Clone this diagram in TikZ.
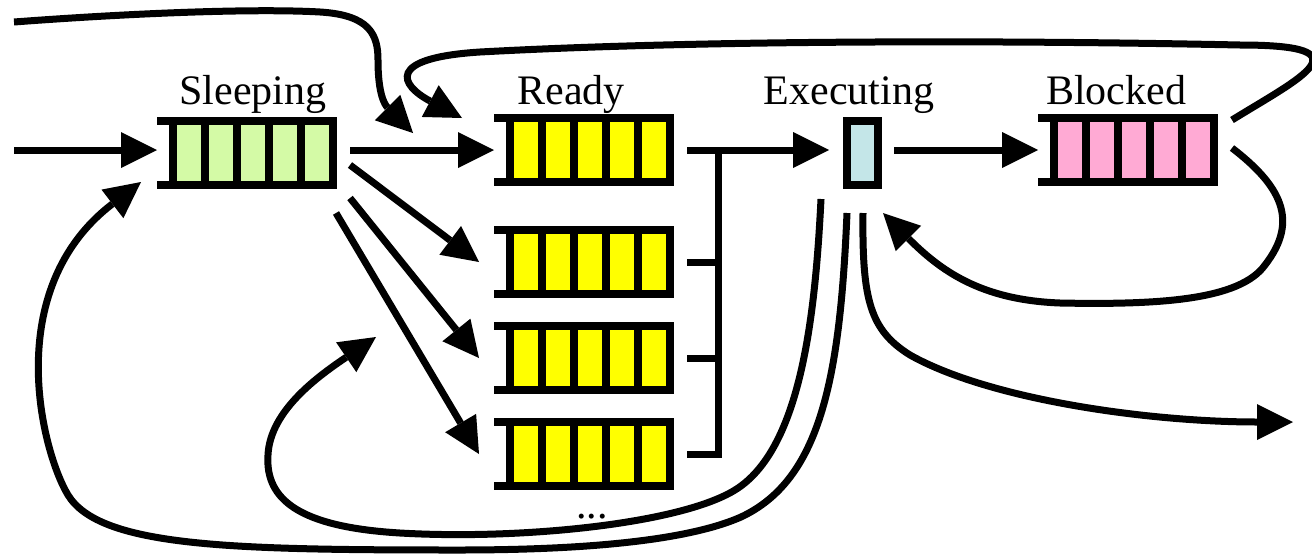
\documentclass[tikz,border=0pt]{standalone}
\usepackage{fontspec}
\setmainfont{Liberation Serif}
\usetikzlibrary{arrows.meta,positioning}
\definecolor{sleepgreen}{RGB}{212,250,166}
\definecolor{readyyellow}{RGB}{255,255,0}
\definecolor{blockpink}{RGB}{255,170,212}
\definecolor{execblue}{RGB}{196,230,232}

\begin{document}
\begin{tikzpicture}[
  x=1pt, y=-1pt,
  font=\fontsize{42}{48}\selectfont,
  fifo/.style={rectangle,minimum width=180pt,minimum height=72pt,inner sep=0pt,outer sep=0pt},
  cpu/.style={rectangle,draw=black,line width=8pt,fill=execblue,minimum width=31pt,minimum height=64pt,inner sep=0pt},
  arc/.style={-{Triangle[length=36pt,width=36pt,line width=0pt]},line width=7pt},
  wire/.style={line width=7pt},
  lab/.style={anchor=base,inner sep=0pt},
]
\useasboundingbox (0,0) rectangle (1312,555);
% queues
\node[fifo] (sleep) at (247,153) {};
\node[fifo] (r1) at (584,150) {};
\node[fifo] (r2) at (584,262) {};
\node[fifo] (r3) at (584,358) {};
\node[fifo] (r4) at (584,454) {};
\node[fifo] (blk) at (1128,150) {};
\node[cpu] (ex) at (862.5,153) {};
\foreach \q/\c in {sleep/sleepgreen,r1/readyyellow,r2/readyyellow,r3/readyyellow,r4/readyyellow,blk/blockpink}{
  \fill ([xshift=12pt]\q.north west) rectangle (\q.south east);
  \fill (\q.north west) rectangle ([shift={(12,8)}]\q.north west);
  \fill (\q.south west) rectangle ([shift={(12,-8)}]\q.south west);
  \foreach \k in {0,...,4}
    \fill[\c] ([shift={(20+32*\k,8)}]\q.north west) rectangle ++(24,56);
}
% labels
\node[lab] (tsleep) at (253,104) {Sleeping};
\node[lab] (tready) at (571,104) {Ready};
\node[lab] (texec) at (849,104) {Executing};
\node[lab] (tblk) at (1116,104) {Blocked};
\node[lab] (tmore) at (592,518) {...};
% free ends
\coordinate (inS) at (14,150);
\coordinate (inT) at (14,22);
\coordinate (outR) at (1293,422);
\coordinate (backA) at (376,337);
% straight arrows
\draw[arc] (inS) -- ([shift={(0,-3)}]sleep.west);
\draw[arc] ([shift={(13,-3)}]sleep.east) -- (r1.west);
\draw[arc] ([shift={(13,-24)}]sleep.south east) -- ([shift={(-15,0)}]r2.west);
\draw[arc] ([shift={(13,9)}]sleep.south east) -- ([shift={(-15,0)}]r3.west);
\draw[arc] ([shift={(-1,24)}]sleep.south east) -- ([shift={(-15,0)}]r4.west);
\draw[wire] ([xshift=13pt]r4.east) -- ++(31,0) coordinate (bk) -- (bk |- r1.east);
\draw[wire] ([xshift=13pt]r2.east) -- (bk |- r2.east);
\draw[wire] ([xshift=13pt]r3.east) -- (bk |- r3.east);
\draw[arc,shorten >=14pt] ([xshift=13pt]r1.east) -- (ex.west |- r1.east);
\draw[arc,shorten <=12pt] (ex.east |- blk.west) -- (blk.west);
% curved arrows
\draw[arc] (inT) .. controls (120,14) and (250,8) .. (320,12)
  .. controls (370,15) and (378,35) .. (378,60)
  .. controls (378,95) and (385,105) .. ([shift={(-81,-17)}]r1.west);
\draw[arc] ([shift={(14,6)}]blk.north east) .. controls (1300,78) and (1370,45) .. (1240,45)
  .. controls (1000,40) and (700,40) .. (480,52)
  .. controls (385,58) and (400,85) .. ([shift={(-32,4)}]r1.north west);
\draw[arc] ([shift={(14,-2)}]blk.east) .. controls (1280,185) and (1300,220) .. (1265,265)
  .. controls (1240,300) and (1160,305) .. (1060,303)
  .. controls (980,300) and (940,270) .. ([shift={(1,24)}]ex.south east);
\draw[arc] ([shift={(0.5,24)}]ex.south) .. controls (862,300) and (870,330) .. (910,355)
  .. controls (990,400) and (1150,422) .. (outR);
\draw[arc] ([shift={(-41.5,10)}]ex.south) .. controls (815,320) and (800,450) .. (735,490)
  .. controls (680,524) and (520,540) .. (400,533)
  .. controls (300,527) and (265,500) .. (268,455)
  .. controls (270,410) and (320,375) .. (backA);
\draw[arc] ([shift={(-15.5,24)}]ex.south) .. controls (840,380) and (820,480) .. (741,517)
  .. controls (680,544) and (560,550) .. (459,550)
  .. controls (230,550) and (100,547) .. (68,495)
  .. controls (42,452) and (0,290) .. ([shift={(-16,-7)}]sleep.south west);
\end{tikzpicture}
\end{document}
